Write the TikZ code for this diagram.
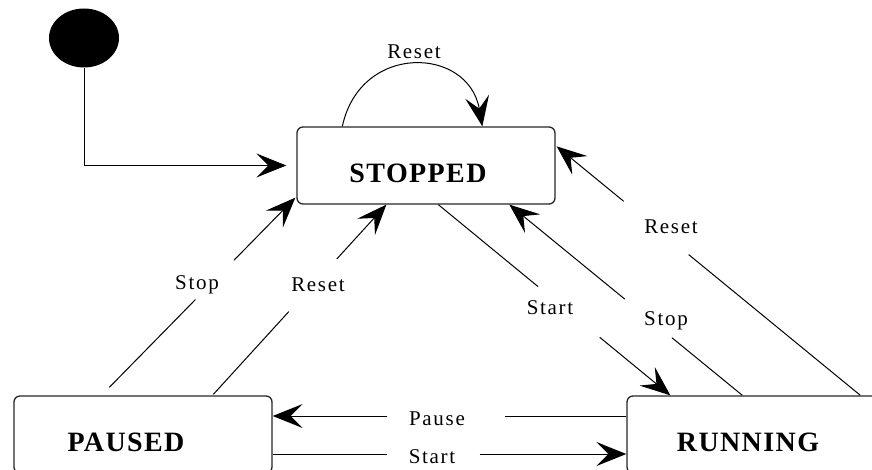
\documentclass[tikz,border=0pt]{standalone}
\usepackage{fontspec}
\setmainfont{Liberation Serif}
\newfontfamily\lblfont[LetterSpace=8]{Liberation Serif}
\newfontfamily\statefont[LetterSpace=5]{Liberation Serif}
\usetikzlibrary{arrows.meta,calc,shapes.geometric}
\tikzset{
	state/.style={draw=black!85, line width=1.3pt, rounded corners=6pt, minimum width=258pt, minimum height=77pt},
	statename/.style={font=\statefont\bfseries\fontsize{28}{32}\selectfont, inner sep=0pt},
	lbl/.style={font=\lblfont\fontsize{21}{25}\selectfont, inner sep=0pt},
	arr/.style={line width=1pt, -{Stealth[length=30pt,width=24pt,inset=12pt]}},
}
\begin{document}
\begin{tikzpicture}[x=1pt, y=-1pt]
	\clip (0,0) rectangle (872,470);
	% states
	\node[ellipse, fill=black, minimum width=70pt, minimum height=59pt, inner sep=0pt] (init) at (84,38) {};
	\node[state, label={[statename, shift={(-8,8)}]center:STOPPED}] (stopped) at (426,165.5) {};
	\node[state, label={[statename, shift={(-17,8)}]center:PAUSED}] (paused) at (143,434.5) {};
	\node[state, label={[statename, shift={(-8,8)}]center:RUNNING}] (running) at (756,434.5) {};
	
	% initial transition and reset loop
	\draw[arr, shorten >=10pt] (init.south) |- (stopped.west);
	\draw[arr] ($(stopped.north west)+(46,0)$) .. controls +(18,-84) and +(-14,-80) .. ($(stopped.north west)+(186,0)$);
	\node[lbl] (lreset) at (414,52) {Reset};
	
	% paused -> stopped
	\draw[arr, dash pattern=on 123pt off 55pt on 600pt] ($(paused.north west)+(96,-8)$) -- ($(stopped.south west)+(-1,-7)$);
	\node[lbl] (lstopp) at (197,285) {Stop};
	\draw[arr, dash pattern=on 112pt off 71pt on 600pt] ($(paused.north west)+(200,-1)$) -- ($(stopped.south west)+(90,0)$);
	\node[lbl] (lresetp) at (318,285) {Reset};
	
	% stopped <-> running
	\draw[arr, dash pattern=on 129pt off 80pt on 600pt] ($(stopped.south west)+(142,0)$) -- ($(running.north west)+(44,0)$);
	\node[lbl] (lstart) at (550,308) {Start};
	\draw[arr, dash pattern=on 91pt off 61pt on 600pt] ($(running.north west)+(116,0)$) -- ($(stopped.south west)+(213,0)$);
	\node[lbl] (lstopr) at (666,321) {Stop};
	\draw[arr, dash pattern=on 222pt off 84pt on 600pt] ($(running.north west)+(234,0)$) -- ($(stopped.north east)+(1,20)$);
	\node[lbl] (lresetr) at (671,227) {Reset};
	
	% paused <-> running
	\draw[arr, dash pattern=on 121pt off 118pt on 600pt] ($(running.west)+(0,-18.5)$) -- ($(paused.east)+(0,-18.5)$);
	\node[lbl] (lpause) at (437,419) {Pause};
	\draw[arr, dash pattern=on 114pt off 93pt on 600pt] ($(paused.east)+(0,19.5)$) -- ($(running.west)+(0,19.5)$);
	\node[lbl] (lstartb) at (432,457) {Start};
	
\end{tikzpicture}
\end{document}
